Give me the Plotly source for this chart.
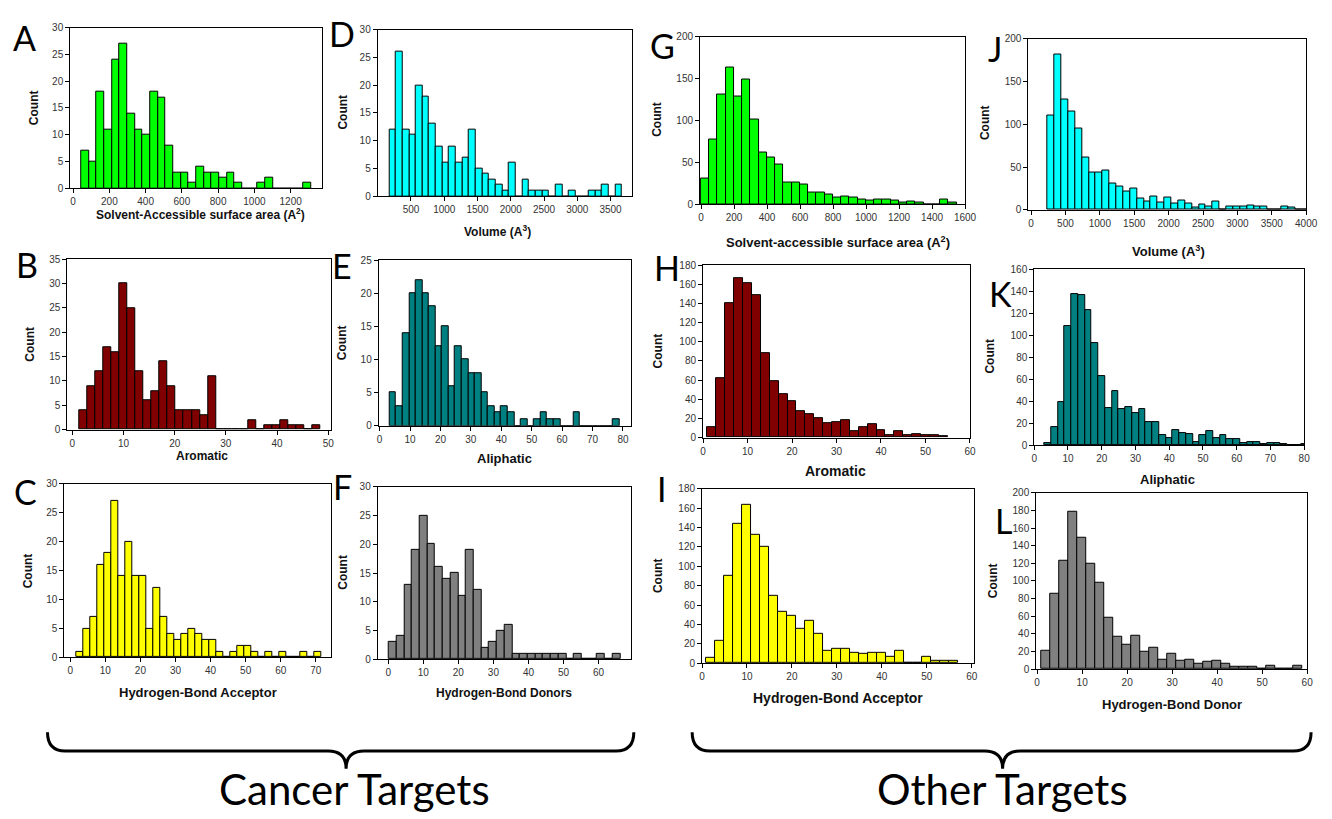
import plotly.graph_objects as go

W, H = 1332, 819

# ---------------- data (counts per bin) ----------------
A_counts = [7, 5, 18, 11, 24, 27, 14, 11, 10, 18, 17, 8, 3, 3, 1, 4, 3, 3, 2, 3, 1, 0, 0, 1, 2, 0, 0, 0, 0, 1]
A_bin_start, A_bin_width = 45, 42.3
D_counts = [12, 26, 12, 11, 20, 18, 13, 9, 6, 9, 6, 7, 12, 5, 4, 3, 2, 1, 6, 0, 3, 1, 1, 1, 0, 2, 0, 1, 0, 0, 1, 1, 2, 0, 2]
D_bin_start, D_bin_width = 174, 100
G_counts = [30, 77, 131, 163, 128, 149, 101, 62, 56, 47, 26, 26, 23, 14, 14, 11, 8, 9, 8, 5, 4, 5, 5, 4, 2, 3, 2, 0, 0, 5, 2]
G_bin_start, G_bin_width = 0, 50
J_counts = [110, 181, 129, 115, 95, 61, 44, 44, 46, 31, 27, 22, 25, 13, 10, 16, 9, 15, 7, 11, 7, 3, 6, 4, 10, 1, 4, 4, 4, 5, 4, 4, 1, 1, 4, 3, 1, 1]
J_bin_start, J_bin_width = 240, 100
B_counts = [4, 9, 12, 17, 16, 30, 25, 12, 6, 8, 14, 9, 4, 4, 4, 3, 11, 0, 0, 0, 0, 2, 0, 1, 1, 2, 1, 1, 0, 1]
B_bin_start, B_bin_width = 1.36, 1.57
E_counts = [5, 3, 14, 20, 22, 20, 18, 12, 15, 6, 12, 10, 8, 8, 5, 3, 2, 3, 2, 0, 1, 0, 1, 2, 1, 1, 0, 0, 2, 0, 0, 0, 0, 0, 1]
E_bin_start, E_bin_width = 3.25, 2.16
H_counts = [11, 62, 140, 166, 161, 149, 88, 59, 45, 38, 28, 24, 20, 15, 16, 18, 7, 11, 14, 8, 3, 7, 3, 4, 3, 3, 1]
H_bin_start, H_bin_width = 1, 2
K_counts = [2, 17, 39, 108, 137, 136, 123, 93, 63, 34, 49, 33, 35, 29, 33, 21, 21, 9, 7, 14, 11, 10, 3, 9, 13, 7, 9, 6, 6, 2, 3, 3, 1, 2, 2, 1, 0, 0, 1]
K_bin_start, K_bin_width = 3, 2
C_counts = [1, 5, 7, 16, 18, 27, 14, 20, 14, 14, 5, 12, 7, 4, 3, 4, 5, 4, 3, 3, 1, 0, 1, 2, 2, 1, 0, 1, 0, 1, 0, 0, 1, 0, 1]
C_bin_start, C_bin_width = 1.7, 2
F_counts = [3, 4, 13, 19, 25, 20, 16, 14, 15, 11, 19, 12, 2, 3, 5, 6, 1, 1, 1, 1, 1, 1, 1, 0, 1, 0, 0, 1, 0, 1]
F_bin_start, F_bin_width = 0.2, 2.2
I_counts = [6, 23, 90, 144, 163, 133, 120, 70, 53, 49, 35, 44, 30, 13, 15, 15, 11, 10, 11, 11, 7, 13, 0, 0, 7, 3, 3, 3]
I_bin_start, I_bin_width = 1, 2
L_counts = [21, 86, 123, 178, 149, 120, 98, 58, 37, 28, 38, 20, 24, 11, 18, 9, 11, 6, 8, 9, 6, 3, 3, 3, 1, 4, 1, 1, 4]
L_bin_start, L_bin_width = 1, 2

# tick values
A_xticks = [0, 200, 400, 600, 800, 1000, 1200]
D_xticks = [500, 1000, 1500, 2000, 2500, 3000, 3500]
G_xticks = [0, 200, 400, 600, 800, 1000, 1200, 1400, 1600]
J_xticks = [0, 500, 1000, 1500, 2000, 2500, 3000, 3500, 4000]
B_xticks = [0, 10, 20, 30, 40, 50]
E_xticks = [0, 10, 20, 30, 40, 50, 60, 70, 80]
H_xticks = [0, 10, 20, 30, 40, 50, 60]
K_xticks = [0, 10, 20, 30, 40, 50, 60, 70, 80]
C_xticks = [0, 10, 20, 30, 40, 50, 60, 70]
F_xticks = [0, 10, 20, 30, 40, 50, 60]
I_xticks = [0, 10, 20, 30, 40, 50, 60]
L_xticks = [0, 10, 20, 30, 40, 50, 60]
yt_30 = [0, 5, 10, 15, 20, 25, 30]
yt_35 = [0, 5, 10, 15, 20, 25, 30, 35]
yt_25 = [0, 5, 10, 15, 20, 25]
yt_200_50 = [0, 50, 100, 150, 200]
yt_180 = [0, 20, 40, 60, 80, 100, 120, 140, 160, 180]
yt_160 = [0, 20, 40, 60, 80, 100, 120, 140, 160]
yt_200_20 = [0, 20, 40, 60, 80, 100, 120, 140, 160, 180, 200]

# ---------------- layout / styling ----------------
GREEN, CYAN, MAROON, TEAL, YELLOW, GREY = '#00FF00', '#00FFFF', '#800000', '#008080', '#FFFF00', '#808080'

panels = [
    dict(letter='A', counts=A_counts, start=A_bin_start, width=A_bin_width, color=GREEN,
         box=(68, 22, 323, 185), xr=[-16, 1375], yr=[0, 30], xt=A_xticks, yt=yt_30,
         xtitle='Solvent-Accessible surface area (A<sup>2</sup>)', xtpos=(200, 211), xfs=12,
         ypos=(32, 103), lpos=(22, 32)),
    dict(letter='D', counts=D_counts, start=D_bin_start, width=D_bin_width, color=CYAN,
         box=(379, 24, 636, 193), xr=[0, 3820], yr=[0, 30], xt=D_xticks, yt=yt_30,
         xtitle='Volume (A<sup>3</sup>)', xtpos=(500, 228), xfs=12,
         ypos=(344, 108), lpos=(343, 28)),
    dict(letter='G', counts=G_counts, start=G_bin_start, width=G_bin_width, color=GREEN,
         box=(705, 31, 973, 201), xr=[-6, 1600], yr=[0, 200], xt=G_xticks, yt=yt_200_50,
         xtitle='Solvent-accessible surface area (A<sup>2</sup>)', xtpos=(845, 240), xfs=13,
         ypos=(662, 115), lpos=(667, 40)),
    dict(letter='J', counts=J_counts, start=J_bin_start, width=J_bin_width, color=CYAN,
         box=(1037, 33, 1318, 207), xr=[-40, 4000], yr=[0, 200], xt=J_xticks, yt=yt_200_50,
         xtitle='Volume (A<sup>3</sup>)', xtpos=(1179, 249), xfs=13,
         ypos=(993, 118), lpos=(1003, 43)),
    dict(letter='B', counts=B_counts, start=B_bin_start, width=B_bin_width, color=MAROON,
         box=(65, 257, 332, 430), xr=[-1, 50.6], yr=[0, 35], xt=B_xticks, yt=yt_35,
         xtitle='Aromatic', xtpos=(201, 457), xfs=12,
         ypos=(27, 343), lpos=(24, 262)),
    dict(letter='E', counts=E_counts, start=E_bin_start, width=E_bin_width, color=TEAL,
         box=(380, 258, 635, 426), xr=[-0.3, 82.6], yr=[0, 25], xt=E_xticks, yt=yt_25,
         xtitle='Aliphatic', xtpos=(507, 459), xfs=13,
         ypos=(343, 342), lpos=(343, 263)),
    dict(letter='H', counts=H_counts, start=H_bin_start, width=H_bin_width, color=MAROON,
         box=(708, 263, 978, 438), xr=[0, 60], yr=[0, 180], xt=H_xticks, yt=yt_180,
         xtitle='Aromatic', xtpos=(842, 472), xfs=14,
         ypos=(662, 350), lpos=(672, 265)),
    dict(letter='K', counts=K_counts, start=K_bin_start, width=K_bin_width, color=TEAL,
         box=(1043, 267, 1316, 446), xr=[0, 80], yr=[0, 160], xt=K_xticks, yt=yt_160,
         xtitle='Aliphatic', xtpos=(1178, 481), xfs=13,
         ypos=(998, 355), lpos=(1009, 292)),
    dict(letter='C', counts=C_counts, start=C_bin_start, width=C_bin_width, color=YELLOW,
         box=(62, 485, 332, 661), xr=[-1.7, 74.4], yr=[0, 30], xt=C_xticks, yt=yt_30,
         xtitle='Hydrogen-Bond Acceptor', xtpos=(197, 697), xfs=13,
         ypos=(25, 573), lpos=(23, 493)),
    dict(letter='F', counts=F_counts, start=F_bin_start, width=F_bin_width, color=GREY,
         box=(379, 488, 635, 663), xr=[-3, 69.2], yr=[0, 30], xt=F_xticks, yt=yt_30,
         xtitle='Hydrogen-Bond Donors', xtpos=(507, 697), xfs=12,
         ypos=(343, 575), lpos=(343, 488)),
    dict(letter='I', counts=I_counts, start=I_bin_start, width=I_bin_width, color=YELLOW,
         box=(707, 490, 982, 667), xr=[0, 60.5], yr=[0, 180], xt=I_xticks, yt=yt_180,
         xtitle='Hydrogen-Bond Acceptor', xtpos=(845, 702), xfs=14,
         ypos=(662, 578), lpos=(666, 490)),
    dict(letter='L', counts=L_counts, start=L_bin_start, width=L_bin_width, color=GREY,
         box=(1045, 494, 1319, 673), xr=[-0.2, 60], yr=[0, 200], xt=L_xticks, yt=yt_200_20,
         xtitle='Hydrogen-Bond Donor', xtpos=(1182, 709), xfs=13,
         ypos=(1002, 583), lpos=(1012, 522)),
]

AXFONT = 'Liberation Sans, Arial, sans-serif'
LETTERFONT = 'Lato, Open Sans, sans-serif'


def px(x):
    return x / W


def py(y):
    return 1 - y / H


fig = go.Figure()
layout = dict(width=W, height=H, margin=dict(l=0, r=0, t=0, b=0),
              paper_bgcolor='white', plot_bgcolor='white', showlegend=False,
              bargap=0)
annotations = []

for i, p in enumerate(panels, start=1):
    xa = 'x' if i == 1 else f'x{i}'
    ya = 'y' if i == 1 else f'y{i}'
    centers = [p['start'] + p['width'] * (k + 0.5) for k in range(len(p['counts']))]
    fig.add_trace(go.Bar(x=centers, y=p['counts'], width=p['width'],
                         marker=dict(color=p['color'], line=dict(color='black', width=1)),
                         xaxis=xa, yaxis=ya, hoverinfo='x+y'))
    x0, y0, x1, y1 = p['box']
    common = dict(showline=True, linecolor='black', linewidth=1, mirror=True,
                  ticks='outside', ticklen=4, tickcolor='black', showgrid=False,
                  zeroline=False, tickfont=dict(family=AXFONT, size=10, color='#333333'))
    layout['xaxis' if i == 1 else f'xaxis{i}'] = dict(
        domain=[px(x0), px(x1)], range=p['xr'], anchor=ya, tickvals=p['xt'], **common)
    layout['yaxis' if i == 1 else f'yaxis{i}'] = dict(
        domain=[py(y1), py(y0)], range=p['yr'], anchor=xa, tickvals=p['yt'], **common)
    annotations.append(dict(text=f"<b>{p['xtitle']}</b>", x=px(p['xtpos'][0]), y=py(p['xtpos'][1]),
                            xref='paper', yref='paper', showarrow=False, xanchor='center', yanchor='middle',
                            font=dict(family=AXFONT, size=p['xfs'], color='#111111')))
    annotations.append(dict(text='<b>Count</b>', x=px(p['ypos'][0]), y=py(p['ypos'][1]),
                            xref='paper', yref='paper', showarrow=False, textangle=-90,
                            xanchor='center', yanchor='middle',
                            font=dict(family=AXFONT, size=12, color='#111111')))
    annotations.append(dict(text=p['letter'], x=px(p['lpos'][0]), y=py(p['lpos'][1]),
                            xref='paper', yref='paper', showarrow=False,
                            xanchor='center', yanchor='middle',
                            font=dict(family=LETTERFONT, size=34, color='black')))

# group labels
annotations.append(dict(text='Cancer Targets', x=px(355), y=py(795), xref='paper', yref='paper',
                        showarrow=False, xanchor='center', yanchor='middle',
                        font=dict(family=LETTERFONT, size=42, color='black')))
annotations.append(dict(text='Other Targets', x=px(1011), y=py(795), xref='paper', yref='paper',
                        showarrow=False, xanchor='center', yanchor='middle',
                        font=dict(family=LETTERFONT, size=42, color='black')))


def brace_path(xl, xc, xr, ytop, ymid, ytip, r=18):
    pts = [
        ('M', [(xl, ytop)]),
        ('Q', [(xl, ymid), (xl + r, ymid)]),
        ('L', [(xc - r, ymid)]),
        ('Q', [(xc, ymid), (xc, ytip)]),
        ('Q', [(xc, ymid), (xc + r, ymid)]),
        ('L', [(xr - r, ymid)]),
        ('Q', [(xr, ymid), (xr, ytop)]),
    ]
    s = ''
    for cmd, pp in pts:
        s += cmd + ' ' + ' '.join(f'{px(a):.5f},{py(b):.5f}' for a, b in pp) + ' '
    return s.strip()


shapes = [
    dict(type='path', xref='paper', yref='paper', path=brace_path(45, 347, 638, 737, 756, 774),
         line=dict(color='black', width=3)),
    dict(type='path', xref='paper', yref='paper', path=brace_path(697, 1011, 1323, 737, 756, 774),
         line=dict(color='black', width=3)),
]

layout['annotations'] = annotations
layout['shapes'] = shapes
fig.update_layout(**layout)
fig.write_html('out.html', config={'displayModeBar': False},
               post_script="document.body.style.margin='0px';document.body.style.overflow='hidden';")
